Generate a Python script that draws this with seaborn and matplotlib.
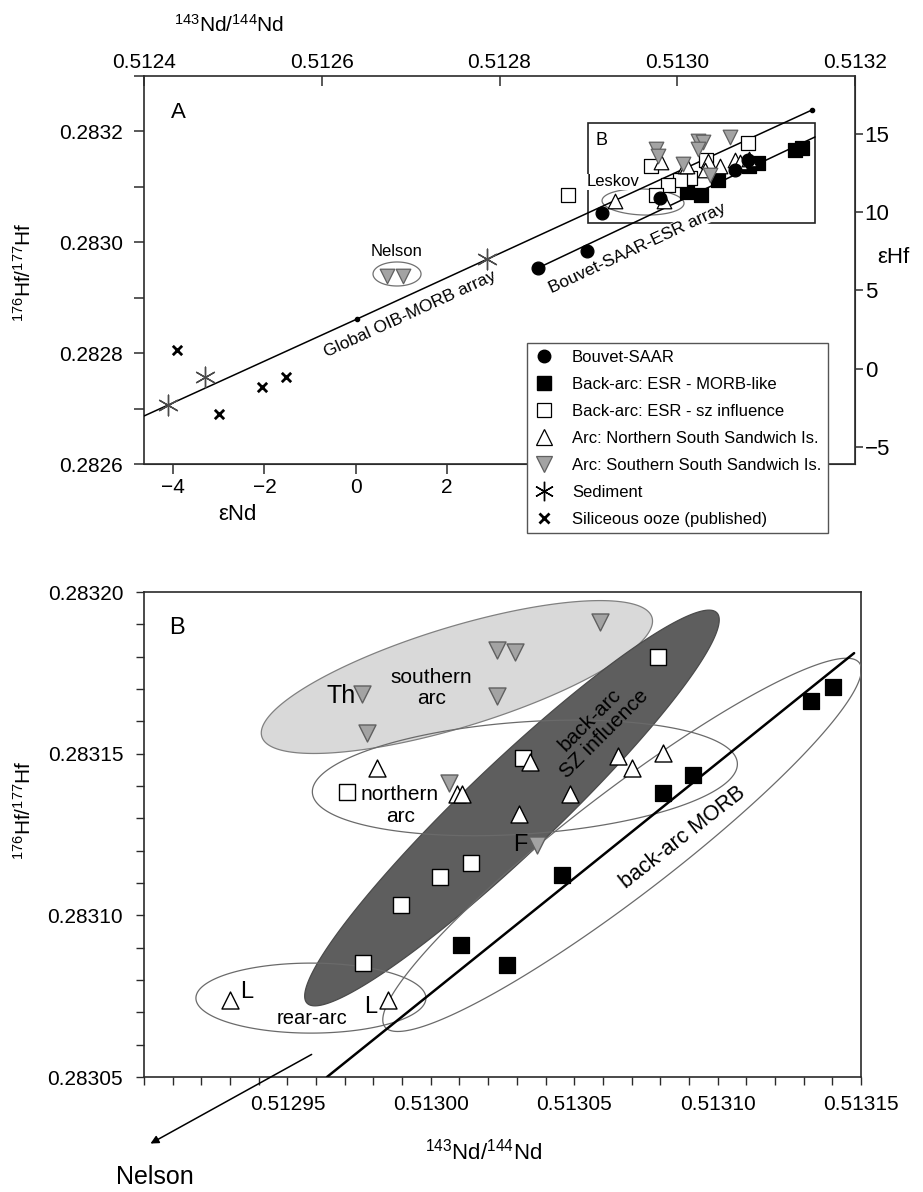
import numpy as np
import matplotlib
matplotlib.use("Agg")
import matplotlib.pyplot as plt
import seaborn as sns
from matplotlib.patches import Polygon, Rectangle
from matplotlib.lines import Line2D
from matplotlib.ticker import MultipleLocator, FormatStrFormatter, NullFormatter

sns.set_style("ticks")
plt.rcParams['font.family'] = ['Liberation Sans', 'DejaVu Sans']
plt.rcParams['mathtext.fontset'] = 'custom'
plt.rcParams['mathtext.rm'] = 'Liberation Sans'
plt.rcParams['mathtext.it'] = 'Liberation Sans:italic'
plt.rcParams['mathtext.bf'] = 'Liberation Sans:bold'
plt.rcParams['text.color'] = 'black'
plt.rcParams['axes.labelcolor'] = 'black'
plt.rcParams['xtick.labelcolor'] = 'black'
plt.rcParams['ytick.labelcolor'] = 'black'

CHUR_ND = 0.512638
CHUR_HF = 0.282772

# ---- data (143Nd/144Nd, 176Hf/177Hf) ----
# back-arc ESR, MORB-like (black squares)
morb_nd = [0.5130105, 0.5130266, 0.5130457, 0.5130810, 0.5130914, 0.5131326, 0.5131402]
morb_hf = [0.2830908, 0.2830846, 0.2831125, 0.2831378, 0.2831434, 0.2831663, 0.2831706]
# back-arc ESR, sz influence (open squares)
sz_nd = [0.5129708, 0.5130322, 0.5130792, 0.5130140, 0.5130032, 0.5129896, 0.5129764]
sz_hf = [0.2831381, 0.2831487, 0.2831799, 0.2831162, 0.2831119, 0.2831032, 0.2830853]
sz_extra_nd = [0.5128771]
sz_extra_hf = [0.2830853]
# northern arc (open triangles)
north_nd = [0.5129812, 0.5130091, 0.5130109, 0.5130346, 0.5130653, 0.5130702,
            0.5130810, 0.5130485, 0.5130308, 0.5129300, 0.5129851]
north_hf = [0.2831456, 0.2831375, 0.2831375, 0.2831474, 0.2831493, 0.2831456,
            0.2831502, 0.2831375, 0.2831313, 0.2830738, 0.2830738]
# southern arc (grey inverted triangles)
south_nd = [0.5129760, 0.5129778, 0.5130231, 0.5130294, 0.5130231, 0.5130590, 0.5130063, 0.5130370]
south_hf = [0.2831685, 0.2831564, 0.2831821, 0.2831814, 0.2831678, 0.2831907, 0.2831409, 0.2831218]
nelson_nd = [0.5126734, 0.5126914]
nelson_hf = [0.2829392, 0.2829392]
# Bouvet-SAAR (filled circles)
bouvet_nd = [0.5128433, 0.5128985, 0.5129153, 0.5129806, 0.5130650, 0.5130796]
bouvet_hf = [0.2829536, 0.2829843, 0.2830528, 0.2830799, 0.2831304, 0.2831485]
# sediment and siliceous ooze
sed_nd = [0.5124270, 0.5124686, 0.5127859]
sed_hf = [0.2827064, 0.2827570, 0.2829698]
ooze_nd = [0.5124371, 0.5124844, 0.5125328, 0.5125598]
ooze_hf = [0.2828057, 0.2826902, 0.2827389, 0.2827570]
# arrays
global_nd = [0.5124, 0.5126397, 0.5131516]
global_hf = [0.2826866, 0.2828616, 0.2832387]
esr_nd = [0.5128433, 0.5131550]
esr_hf = [0.2829536, 0.2831900]
morb_line_nd = [0.5129638, 0.5131476]
morb_line_hf = [0.28305, 0.2831811]

A_xticks = [0.5124, 0.5126, 0.5128, 0.5130, 0.5132]
A_yticks = [0.2826, 0.2828, 0.2830, 0.2832]
eps_nd_ticks = [-4, -2, 0, 2]
eps_hf_ticks = [-5, 0, 5, 10, 15]
B_xticks = [0.51295, 0.51300, 0.51305, 0.51310, 0.51315]
B_yticks = [0.28305, 0.28310, 0.28315, 0.28320]

W, H = 923, 1192
SPINE = '#2b2b2b'
GREY_FACE = '#a3a3a3'
GREY_EDGE = '#606060'


def fx(px):
    return px / W


def fy(py):
    return 1 - py / H


def ellipse(ax, cx, cy, a_px, b_px, ang, **kw):
    t = np.linspace(0, 2 * np.pi, 240)
    th = np.deg2rad(ang)
    x0, y0 = ax.transData.transform((cx, cy))
    xs = x0 + a_px * np.cos(t) * np.cos(th) - b_px * np.sin(t) * np.sin(th)
    ys = y0 + a_px * np.cos(t) * np.sin(th) + b_px * np.sin(t) * np.cos(th)
    pts = ax.transData.inverted().transform(np.column_stack([xs, ys]))
    ax.add_patch(Polygon(pts, closed=True, **kw))


def points(ax, x, y, marker, s, face, edge, lw=0.9, z=5):
    sns.scatterplot(x=x, y=y, ax=ax, marker=marker, s=s, color=face,
                    edgecolor=edge, linewidth=lw, zorder=z, legend=False)


fig = plt.figure(figsize=(W / 100, H / 100), dpi=100)
axA = fig.add_axes([fx(144), fy(464), 711 / W, 388 / H])
axB = fig.add_axes([fx(144), fy(1077), 717 / W, 485 / H])

for ax in (axA, axB):
    for sp in ax.spines.values():
        sp.set_color(SPINE)
        sp.set_linewidth(1.2)

# ================= panel A =================
axA.set_xlim(0.5124, 0.5132)
axA.set_ylim(0.2826, 0.2833)
axA.xaxis.tick_top()
axA.set_xticks(A_xticks)
axA.xaxis.set_major_formatter(FormatStrFormatter('%.4f'))
axA.set_yticks(A_yticks)
axA.yaxis.set_major_formatter(FormatStrFormatter('%.4f'))
axA.yaxis.set_minor_locator(MultipleLocator(0.0001))
axA.yaxis.set_minor_formatter(NullFormatter())
axA.tick_params(axis='x', which='both', direction='in', top=True, bottom=False,
                labeltop=True, labelbottom=False, length=7, width=1.1, labelsize=15,
                pad=3, color=SPINE)
axA.tick_params(axis='y', which='both', direction='out', left=True, right=False,
                length=7, width=1.1, labelsize=15, pad=8, color=SPINE)

secx = axA.secondary_xaxis('bottom', functions=(lambda v: (v / CHUR_ND - 1) * 1e4,
                                                 lambda e: (e / 1e4 + 1) * CHUR_ND))
secx.set_xticks(eps_nd_ticks)
secx.tick_params(direction='out', length=7, width=1.1, labelsize=15, pad=3, color=SPINE)
secx.spines['bottom'].set_color(SPINE)
secy = axA.secondary_yaxis('right', functions=(lambda v: (v / CHUR_HF - 1) * 1e4,
                                                lambda e: (e / 1e4 + 1) * CHUR_HF))
secy.set_yticks(eps_hf_ticks)
secy.tick_params(direction='out', length=6, width=1.1, labelsize=16, pad=1, color=SPINE)
secy.spines['right'].set_color(SPINE)

# arrays
axA.plot(global_nd, global_hf, color='black', lw=1.1, marker='o', ms=3,
         markevery=[1, 2], zorder=4)
axA.plot(esr_nd, esr_hf, color='black', lw=1.1, zorder=4)
axA.add_patch(Rectangle((0.5129, 0.2830348), 0.000255, 0.0001804, fill=False,
                        ec='#222222', lw=1.2, zorder=2))
axA.text(0.5129153, 0.2831845, 'B', fontsize=13, ha='center', va='center', zorder=6)
ellipse(axA, 0.5129615, 0.2830727, 41, 13, -2, fill=False, ec='#707070', lw=0.9, zorder=3)
ellipse(axA, 0.5126847, 0.2829428, 24, 12, 0, fill=False, ec='#707070', lw=0.9, zorder=3)

points(axA, morb_nd, morb_hf, 's', 100, 'black', 'black')
points(axA, sz_nd + sz_extra_nd, sz_hf + sz_extra_hf, 's', 110, 'white', 'black')
points(axA, north_nd, north_hf, '^', 110, 'white', 'black')
points(axA, south_nd, south_hf, 'v', 110, GREY_FACE, GREY_EDGE)
points(axA, nelson_nd, nelson_hf, 'v', 110, GREY_FACE, GREY_EDGE)
points(axA, bouvet_nd, bouvet_hf, 'o', 85, 'black', 'black')
sns.scatterplot(x=sed_nd, y=sed_hf, ax=axA, marker=(6, 2, 0), s=220, color='#4a4a4a',
                linewidth=1.0, zorder=5, legend=False)
sns.scatterplot(x=ooze_nd, y=ooze_hf, ax=axA, marker='x', s=45, color='black',
                linewidth=2.0, zorder=5, legend=False)

axA.text(0.5126993, 0.2828706, 'Global OIB-MORB array', fontsize=12.5, rotation=24.6,
         ha='center', va='center', rotation_mode='anchor', zorder=6)
axA.text(0.5129547, 0.2829897, 'Bouvet-SAAR-ESR array', fontsize=12.5, rotation=25,
         ha='center', va='center', rotation_mode='anchor', zorder=3,
         bbox=dict(facecolor='white', edgecolor='none', pad=0.3))
axA.text(0.5129277, 0.2831088, 'Leskov', fontsize=12, ha='center', va='center', zorder=3,
         bbox=dict(facecolor='white', edgecolor='none', pad=0.5))
axA.text(0.5126847, 0.2829825, 'Nelson', fontsize=12, ha='center', va='center', zorder=6)
axA.text(0.048, 0.905, 'A', fontsize=16, transform=axA.transAxes, ha='center', va='center')

fig.text(fx(229), fy(25), r'$^{143}$Nd/$^{144}$Nd', fontsize=15, ha='center', va='center')
fig.text(fx(24), fy(272), r'$^{176}$Hf/$^{177}$Hf', fontsize=15, rotation=90,
         ha='center', va='center')
fig.text(fx(237), fy(515), 'εNd', fontsize=16, ha='center', va='center')
fig.text(fx(893), fy(258), 'εHf', fontsize=16, ha='center', va='center')

handles = [
    Line2D([], [], ls='none', marker='o', ms=9, mfc='black', mec='black'),
    Line2D([], [], ls='none', marker='s', ms=10, mfc='black', mec='black'),
    Line2D([], [], ls='none', marker='s', ms=10, mfc='white', mec='black', mew=0.9),
    Line2D([], [], ls='none', marker='^', ms=11, mfc='white', mec='black', mew=0.9),
    Line2D([], [], ls='none', marker='v', ms=11, mfc=GREY_FACE, mec=GREY_EDGE, mew=0.9),
    Line2D([], [], ls='none', marker=(6, 2, 0), ms=14, color='black', mew=1.0),
    Line2D([], [], ls='none', marker='x', ms=7, color='black', mew=2.0),
]
labels = ['Bouvet-SAAR', 'Back-arc: ESR - MORB-like', 'Back-arc: ESR - sz influence',
          'Arc: Northern South Sandwich Is.', 'Arc: Southern South Sandwich Is.',
          'Sediment', 'Siliceous ooze (published)']
leg = fig.legend(handles, labels, loc='upper left', bbox_to_anchor=(fx(527), fy(343)),
                 fontsize=12, frameon=True, fancybox=False, framealpha=1,
                 edgecolor='#555555', handlelength=1.24, handletextpad=1.06,
                 labelspacing=0.72, borderpad=0.4, borderaxespad=0)
leg.get_frame().set_linewidth(1.0)

# ================= panel B =================
axB.set_xlim(0.5129, 0.51315)
axB.set_ylim(0.28305, 0.28320)
axB.set_xticks(B_xticks)
axB.xaxis.set_major_formatter(FormatStrFormatter('%.5f'))
axB.xaxis.set_minor_locator(MultipleLocator(0.00001))
axB.xaxis.set_minor_formatter(NullFormatter())
axB.set_yticks(B_yticks)
axB.yaxis.set_major_formatter(FormatStrFormatter('%.5f'))
axB.yaxis.set_minor_locator(MultipleLocator(0.00001))
axB.yaxis.set_minor_formatter(NullFormatter())
axB.tick_params(axis='x', which='both', direction='out', length=6, width=1.0,
                labelsize=15, pad=7, color=SPINE)
axB.tick_params(axis='y', which='both', direction='out', length=6, width=1.0,
                labelsize=15, pad=9, color=SPINE)

# fields
ellipse(axB, 0.5130091, 0.2831737, 204, 50, 17, fc='#d9d9d9', ec='#808080', lw=0.9, zorder=1)
ellipse(axB, 0.5130283, 0.2831332, 283, 45, 43.6, fc='#5e5e5e', ec='#4a4a4a', lw=0.9, zorder=2)
ellipse(axB, 0.5130328, 0.2831425, 213, 56, 4, fill=False, ec='#6a6a6a', lw=0.9, zorder=3)
ellipse(axB, 0.5130667, 0.2831218, 299, 52, 37.5, fill=False, ec='#6a6a6a', lw=0.9, zorder=3)
ellipse(axB, 0.5129582, 0.2830744, 115, 35, 0, fill=False, ec='#6a6a6a', lw=0.9, zorder=3)

axB.plot(morb_line_nd, morb_line_hf, color='black', lw=1.8, zorder=4)

points(axB, morb_nd, morb_hf, 's', 135, 'black', 'black')
points(axB, sz_nd, sz_hf, 's', 135, 'white', 'black', lw=1.0)
points(axB, north_nd, north_hf, '^', 150, 'white', 'black', lw=1.0)
points(axB, south_nd, south_hf, 'v', 150, GREY_FACE, GREY_EDGE, lw=1.0)

axB.text(0.046, 0.926, 'B', fontsize=17, transform=axB.transAxes, ha='center', va='center')
axB.text(0.5130001, 0.2831703, 'southern\narc', fontsize=15, ha='center', va='center',
         linespacing=1.1, zorder=6)
axB.text(0.5129687, 0.2831678, 'Th', fontsize=18, ha='center', va='center', zorder=6)
axB.text(0.5129893, 0.2831341, 'northern\narc', fontsize=15, ha='center', va='center',
         linespacing=1.2, zorder=6)
axB.text(0.5130580, 0.2831583, 'back-arc\nSZ influence', fontsize=15, rotation=45,
         ha='center', va='center', rotation_mode='anchor', linespacing=1.0, zorder=6)
axB.text(0.5130879, 0.2831240, 'back-arc MORB', fontsize=15.5, rotation=38,
         ha='center', va='center', rotation_mode='anchor', zorder=6)
axB.text(0.5130311, 0.2831218, 'F', fontsize=17, ha='center', va='center', zorder=6)
axB.text(0.5129359, 0.2830763, 'L', fontsize=17, ha='center', va='center', zorder=6)
axB.text(0.5129792, 0.2830717, 'L', fontsize=17, ha='center', va='center', zorder=6)
axB.text(0.5129586, 0.2830682, 'rear-arc', fontsize=14.5, ha='center', va='center', zorder=6)

axB.annotate('', xy=(0.5129014, 0.2830290), xytext=(0.5129593, 0.2830574),
             annotation_clip=False,
             arrowprops=dict(arrowstyle='-|>', color='black', lw=1.1, mutation_scale=12))
axB.text(0.5129038, 0.2830191, 'Nelson', fontsize=18, ha='center', va='center', clip_on=False)

fig.text(fx(484), fy(1152), r'$^{143}$Nd/$^{144}$Nd', fontsize=16, ha='center', va='center')
fig.text(fx(24), fy(810), r'$^{176}$Hf/$^{177}$Hf', fontsize=15, rotation=90,
         ha='center', va='center')

fig.savefig('out.png', dpi=100)
